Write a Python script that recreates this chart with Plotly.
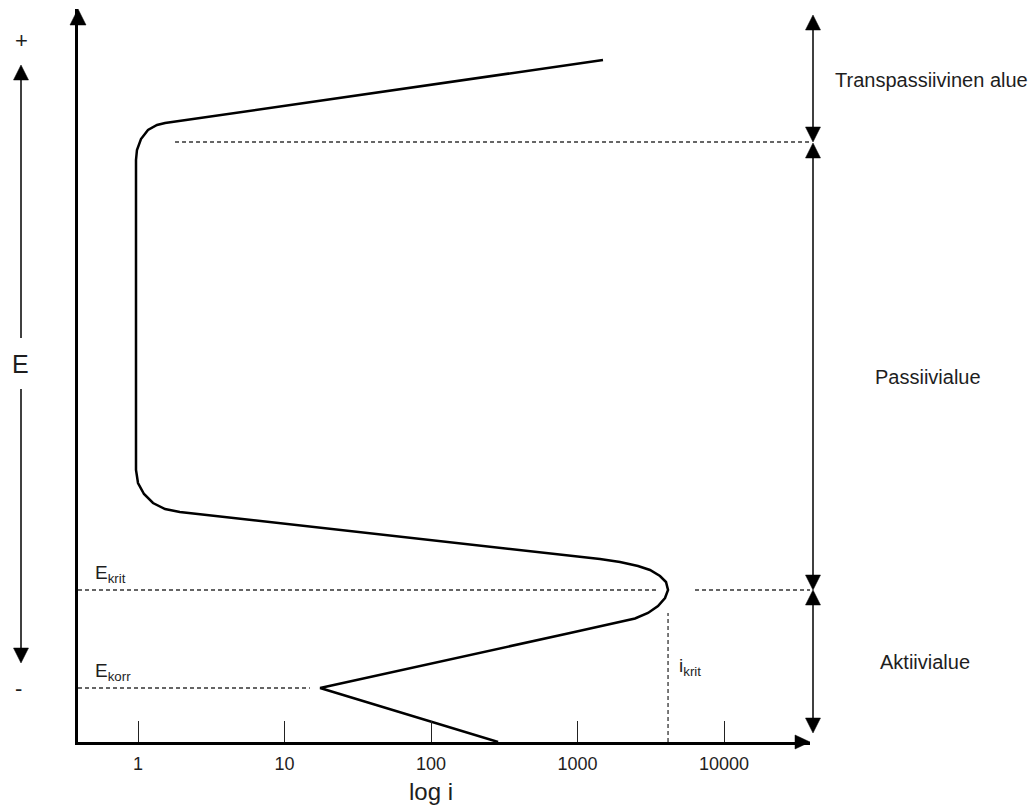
import plotly.graph_objects as go

# ---------------- data ----------------
# polarization curve: current density i (log axis) vs potential E (arbitrary units, 0 at the i-axis)
curve_i = [287, 17.5, 889, 1424, 1951, 2469, 3029, 3544, 3957, 4150, 4019, 3657, 3125,
           2588, 1951, 1424, 1.93, 1.53, 1.266, 1.099, 1.0, 0.969, 0.969, 0.984, 1.048,
           1.17, 1.348, 1.53, 1493]
curve_E = [0, 54, 109, 115.5, 120, 123.5, 129, 136, 144, 152, 160, 166, 172,
           176, 180, 183, 230, 233, 239, 248, 259, 272, 582, 592, 603,
           612, 617, 619, 682]

E_korr = 54        # corrosion potential level
E_krit = 152       # critical potential level
E_transp = 600     # start of transpassive region
E_top = 727        # top of the transpassive arrow
E_bottom = 9       # bottom of the active arrow
i_krit = 4150      # critical current density

transp_dash_start_i = 1.79
krit_dash_end_i = 3542
krit_dash_restart_i = 6340
korr_dash_end_i = 14.9
i_krit_dash_top_E = 129

tick_vals = [1, 10, 100, 1000, 10000]
tick_text = ["1", "10", "100", "1000", "10000"]
region_labels = ["Transpassiivinen alue", "Passiivialue", "Aktiivialue"]

# ---------------- layout geometry (pixels) ----------------
W, H = 1036, 807
L, R, T, B = 78, 810, 9, 742
TICK1_PX, DECADE_PX = 138, 146.5
xr0 = (L - TICK1_PX) / DECADE_PX
xr1 = (R - TICK1_PX) / DECADE_PX
yr0, yr1 = 0, B - T

FONT = "Arial, Liberation Sans, sans-serif"
TXT = "#1e1e1e"


def px(x):
    return (x - L) / (R - L)


def py(y):
    return (B - y) / (B - T)


def ey(E):
    # E value -> pixel y
    return B - (E - yr0) / (yr1 - yr0) * (B - T)


shapes = []


def line_px(x0, y0, x1, y1, w=1.5, color="black"):
    shapes.append(dict(type="line", xref="paper", yref="paper",
                       x0=px(x0), y0=py(y0), x1=px(x1), y1=py(y1),
                       line=dict(color=color, width=w)))


def tri_px(pts, color="black"):
    p = "M " + " L ".join(f"{px(a):.5f},{py(b):.5f}" for a, b in pts) + " Z"
    shapes.append(dict(type="path", xref="paper", yref="paper", path=p,
                       fillcolor=color, line=dict(color=color, width=0.5)))


def arrow_up(x, tip, length=15, half=7.5):
    tri_px([(x, tip), (x - half, tip + length), (x + half, tip + length)])


def arrow_down(x, tip, length=15, half=7.5):
    tri_px([(x, tip), (x - half, tip - length), (x + half, tip - length)])


# main axis arrowheads
tri_px([(R, B), (R - 15, B - 7), (R - 15, B + 7)])
arrow_up(L, T, length=16, half=8)

# left E arrow
LX = 21
line_px(LX, 78, LX, 338)
line_px(LX, 389, LX, 650)
arrow_up(LX, 65)
arrow_down(LX, 663)

# right region arrows
RX = 813
y_top, y_tp, y_kr, y_bot = ey(E_top), ey(E_transp), ey(E_krit), ey(E_bottom)
line_px(RX, y_top + 10, RX, y_tp - 10)
line_px(RX, y_tp + 10, RX, y_kr - 10)
line_px(RX, y_kr + 10, RX, y_bot - 10)
arrow_up(RX, y_top)
arrow_down(RX, y_tp)
arrow_up(RX, y_tp + 1)
arrow_down(RX, y_kr)
arrow_up(RX, y_kr)
arrow_down(RX, y_bot)

fig = go.Figure()

DASH = dict(color="#333333", width=1.3, dash="4px,3px")
x_left = 10 ** xr0
x_right = 10 ** (xr1 + 0.05)

fig.add_trace(go.Scatter(x=[transp_dash_start_i, x_right], y=[E_transp, E_transp],
                         mode="lines", line=DASH, hoverinfo="skip"))
fig.add_trace(go.Scatter(x=[x_left, krit_dash_end_i], y=[E_krit, E_krit],
                         mode="lines", line=DASH, hoverinfo="skip"))
fig.add_trace(go.Scatter(x=[krit_dash_restart_i, x_right], y=[E_krit, E_krit],
                         mode="lines", line=DASH, hoverinfo="skip"))
fig.add_trace(go.Scatter(x=[x_left, korr_dash_end_i], y=[E_korr, E_korr],
                         mode="lines", line=DASH, hoverinfo="skip"))
fig.add_trace(go.Scatter(x=[i_krit, i_krit], y=[0, i_krit_dash_top_E],
                         mode="lines", line=DASH, hoverinfo="skip"))

fig.add_trace(go.Scatter(x=curve_i, y=curve_E, mode="lines",
                         line=dict(color="black", width=2.5), hoverinfo="skip"))

annotations = []


def text_px(x, y, s, size, xanchor="center", yanchor="middle"):
    annotations.append(dict(xref="paper", yref="paper", x=px(x), y=py(y), text=s,
                            showarrow=False, xanchor=xanchor, yanchor=yanchor,
                            font=dict(family=FONT, size=size, color=TXT)))


text_px(21, 40, "+", 22)
text_px(19, 688, "-", 22)
text_px(20, 364, "E", 25)
text_px(431, 791, "log i", 24)
text_px(93, ey(E_krit) - 16, "E<sub>krit</sub>", 19, xanchor="left")
text_px(93, ey(E_korr) - 16, "E<sub>korr</sub>", 19, xanchor="left")
text_px(677, 667, "i<sub>krit</sub>", 19, xanchor="left")
text_px(931, 80, region_labels[0], 20)
text_px(928, 377, region_labels[1], 20)
text_px(925, 662, region_labels[2], 20)

fig.update_layout(
    width=W, height=H,
    margin=dict(l=L, r=W - R, t=T, b=H - B, pad=0),
    paper_bgcolor="white", plot_bgcolor="white",
    showlegend=False,
    shapes=shapes,
    annotations=annotations,
    xaxis=dict(type="log", range=[xr0, xr1], showline=True, linewidth=2.5,
               linecolor="black", ticks="inside", ticklen=21, tickwidth=1.3,
               tickcolor="#222222", tickvals=tick_vals, ticktext=tick_text,
               ticklabelstandoff=4,
               tickfont=dict(family=FONT, size=18, color=TXT),
               showgrid=False, zeroline=False, fixedrange=True),
    yaxis=dict(range=[yr0, yr1], showline=True, linewidth=2.5, linecolor="black",
               ticks="", showticklabels=False, showgrid=False, zeroline=False,
               fixedrange=True),
)

fig.write_html("out.html", config={"displayModeBar": False},
               post_script="document.body.style.margin='0px';document.body.style.overflow='hidden';")
